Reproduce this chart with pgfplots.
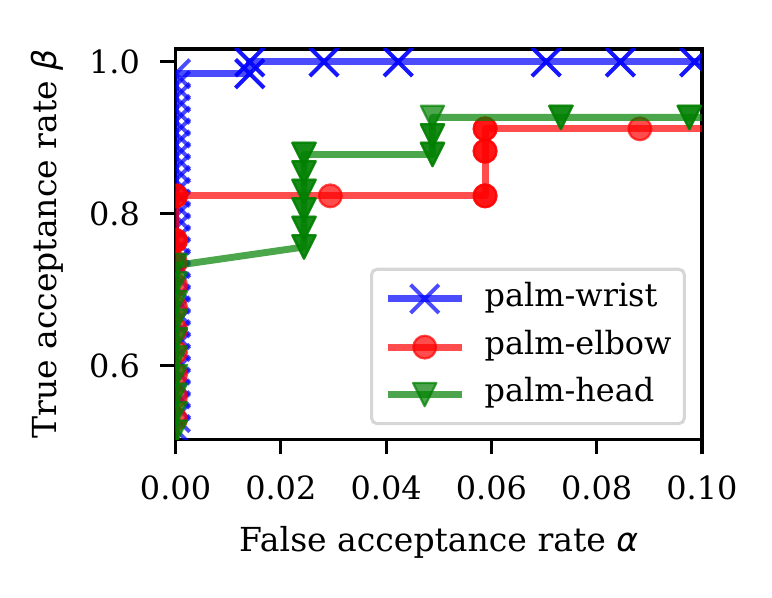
\documentclass[border=0pt]{standalone}
\usepackage{fontspec}
\setmainfont{DejaVu Serif}
\newfontfamily\dvs{DejaVu Sans}
\usepackage{pgfplots}
\pgfplotsset{compat=1.18}
\usetikzlibrary{calc}
\definecolor{mblue}{rgb}{0,0,1}
\definecolor{mred}{rgb}{1,0,0}
\definecolor{mgreen}{rgb}{0,0.5,0}
\pgfdeclareplotmark{vtri}{%
  \pgfpathmoveto{\pgfqpoint{0pt}{-\pgfplotmarksize}}%
  \pgfpathlineto{\pgfqpoint{-\pgfplotmarksize}{\pgfplotmarksize}}%
  \pgfpathlineto{\pgfqpoint{\pgfplotmarksize}{\pgfplotmarksize}}%
  \pgfpathclose
  \pgfusepathqfillstroke}
\newcommand{\fs}{\fontsize{11.5}{13.8}\selectfont}
\newcommand{\fl}{\fontsize{11.9}{14.2}\selectfont}
\begin{document}
\begin{tikzpicture}
\begin{axis}[
  scale only axis, width=189.5pt, height=140.4pt,
  xmin=0, xmax=0.1, ymin=0.503, ymax=1.017,
  axis line style={line width=1.1pt},
  every tick/.style={line width=1.1pt, black},
  major tick length=5.5pt, tick align=outside,
  xtick={0,0.02,0.04,0.06,0.08,0.1},
  ytick={0.6,0.8,1.0},
  xtick pos=left, ytick pos=left,
  scaled x ticks=false, scaled y ticks=false,
  /pgf/number format/assume math mode=true,
  xticklabel style={/pgf/number format/fixed, /pgf/number format/fixed zerofill, /pgf/number format/precision=2, font=\fs, anchor=north, inner sep=0pt, yshift=-7.5pt},
  yticklabel style={/pgf/number format/fixed, /pgf/number format/fixed zerofill, /pgf/number format/precision=1, font=\fs, anchor=east, inner sep=0pt, xshift=-7.1pt},
  xlabel={False acceptance rate {\dvs\itshape α}},
  ylabel={True acceptance rate {\dvs\itshape β}},
  xlabel style={font=\fl, at={(axis description cs:0.5,-0.289)}, anchor=base},
  ylabel style={font=\fl, at={(axis description cs:-0.227,0.5)}, anchor=base},
  clip marker paths=true,
  legend cell align=left,
  legend style={at={(1,0)}, anchor=south east, xshift=-5.8pt, yshift=5pt,
    draw=black!16, line width=1.1pt, rounded corners=2pt, fill=white,
    inner xsep=4.6pt, inner ysep=5.6pt, row sep=7.4pt, column sep=7pt,
    font=\fs, nodes={inner sep=0pt, text height=0.75em, text depth=0.22em}},
  legend image code/.code={\draw[mark repeat=2,mark phase=2,#1] plot coordinates {(0pt,0pt) (13.3pt,0pt) (26.6pt,0pt)};},
]
\addplot[color=mblue, line width=2.5pt, opacity=0.7, line join=round, mark=x, mark size=7.2pt, mark options={line width=1.4pt}] coordinates {
(0,0.5) (0,0.5156) (0,0.5313) (0,0.5469) (0,0.5625) (0,0.5781) (0,0.5938) (0,0.6094) (0,0.625) (0,0.6406) (0,0.6563) (0,0.6719) (0,0.6875) (0,0.7031) (0,0.7188) (0,0.7344) (0,0.75) (0,0.7656) (0,0.7813) (0,0.7969) (0,0.8125) (0,0.8281) (0,0.8438) (0,0.8594) (0,0.875) (0,0.8906) (0,0.9063) (0,0.9219) (0,0.9375) (0,0.9531) (0,0.9688) (0,0.9844)
(0.0141,0.9844) (0.0141,0.9844) (0.0141,1.0) (0.0141,1.0) (0.0282,1.0) (0.0282,1.0) (0.0423,1.0) (0.0423,1.0) (0.0704,1.0) (0.0704,1.0) (0.0845,1.0) (0.0845,1.0) (0.0986,1.0) (0.0986,1.0) (0.1127,1.0)};
\addlegendentry{palm-wrist}
\addplot[color=mred, line width=2.5pt, opacity=0.7, line join=round, mark=*, mark size=4.1pt, mark options={line width=0.8pt}] coordinates {
(0,0.4706) (0,0.5) (0,0.5294) (0,0.5588) (0,0.5882) (0,0.6176) (0,0.6471) (0,0.6765) (0,0.7059) (0,0.7353) (0,0.7647) (0,0.7647) (0,0.8235) (0,0.8235)
(0.0294,0.8235) (0.0588,0.8235) (0.0588,0.8235) (0.0588,0.8824) (0.0588,0.8824) (0.0588,0.9118) (0.0588,0.9118) (0.0882,0.9118) (0.1176,0.9118)};
\addlegendentry{palm-elbow}
\addplot[color=mgreen, line width=2.5pt, opacity=0.7, line join=round, mark=vtri, mark size=4.2pt, mark options={line width=0.8pt}] coordinates {
(0,0.4878) (0,0.5122) (0,0.5366) (0,0.5610) (0,0.5854) (0,0.6098) (0,0.6341) (0,0.6585) (0,0.6829) (0,0.7073) (0,0.7317)
(0.0244,0.7561) (0.0244,0.7561) (0.0244,0.7805) (0.0244,0.7805) (0.0244,0.8049) (0.0244,0.8049) (0.0244,0.8293) (0.0244,0.8293) (0.0244,0.8537) (0.0244,0.8537) (0.0244,0.8780) (0.0244,0.8780)
(0.0488,0.8780) (0.0488,0.8780) (0.0488,0.9024) (0.0488,0.9024) (0.0488,0.9268) (0.0732,0.9268) (0.0732,0.9268) (0.0976,0.9268) (0.0976,0.9268) (0.1220,0.9268)};
\addlegendentry{palm-head}
\end{axis}
\pgfresetboundingbox
\path[use as bounding box] ($(current axis.south west)+(-63.18pt,-56.9pt)$) rectangle ($(current axis.north east)+(25.2pt,17.64pt)$);
\end{tikzpicture}
\end{document}
